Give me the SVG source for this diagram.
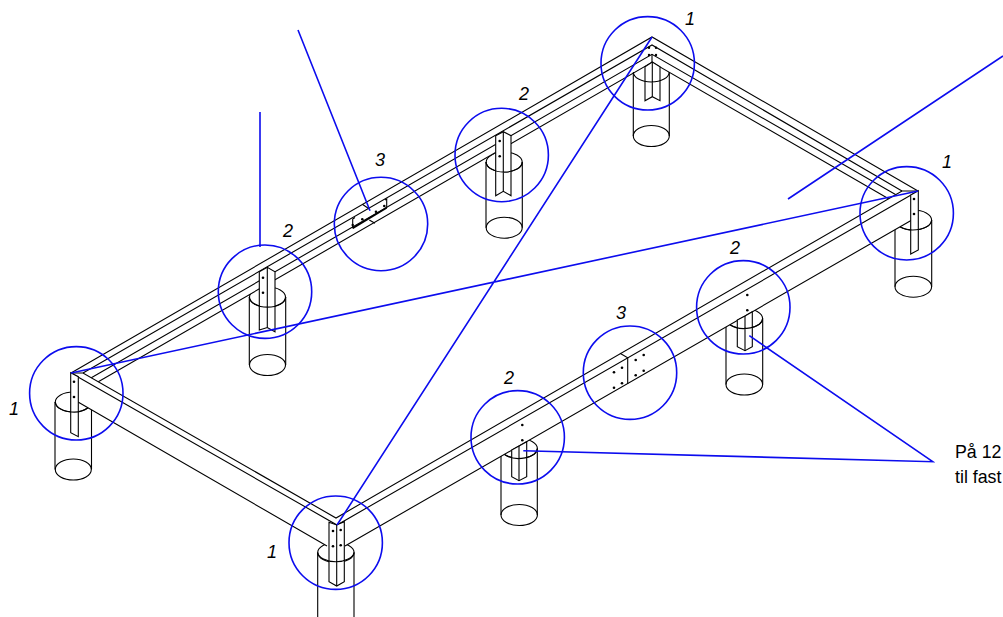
<svg xmlns="http://www.w3.org/2000/svg" width="1003" height="617" viewBox="0 0 1003 617">
<style>
.l{fill:none;stroke:#000;stroke-width:1.1}
.f{fill:#fff;stroke:none}
.b{fill:#fff;stroke:#000;stroke-width:1.1;stroke-linejoin:miter}
.d{fill:#000;stroke:none}
.c{fill:none;stroke:#0c0cee;stroke-width:1.6}
.n{font-family:"Liberation Sans",Arial,sans-serif;font-size:18px;font-style:italic;fill:#000;text-anchor:middle}
.t{font-family:"Liberation Sans",Arial,sans-serif;font-size:17.800px;fill:#000}
</style>
<rect width="1003" height="617" fill="#fff"/>
<g id="piers">
<g id="pier-left" class="l"><path class="l" d="M55 402V469.500M91.500 402V469.500"/><ellipse class="l" cx="73.300" cy="402" rx="18" ry="10"/><ellipse class="l" cx="73.300" cy="469.500" rx="18" ry="10.500"/></g>
<g id="pier-back-1" class="l"><path class="l" d="M249.300 297V365M285.700 297V365"/><ellipse class="l" cx="267.500" cy="297" rx="18" ry="10"/><ellipse class="l" cx="267.500" cy="365" rx="18" ry="10.500"/></g>
<g id="pier-back-2" class="l"><path class="l" d="M486 162V227.700M522.300 162V227.700"/><ellipse class="l" cx="504.200" cy="162" rx="18" ry="10"/><ellipse class="l" cx="504.200" cy="227.700" rx="18" ry="10.500"/></g>
<g id="pier-top" class="l"><path class="l" d="M633.300 72V136M669.300 72V136"/><ellipse class="l" cx="651.300" cy="136" rx="18" ry="10.500"/></g>
<g id="pier-right" class="l"><path class="l" d="M895 220V286.700M931.700 220V286.700"/><ellipse class="l" cx="913.300" cy="220" rx="18.300" ry="10"/><ellipse class="l" cx="913.300" cy="286.700" rx="18.300" ry="10.500"/></g>
<g id="pier-front-1" class="l"><path class="l" d="M726 318.500V384.500M762.700 318.500V384.500"/><ellipse class="l" cx="744.300" cy="318.500" rx="18.300" ry="10"/><ellipse class="l" cx="744.300" cy="384.500" rx="18.300" ry="10.500"/></g>
<g id="pier-front-2" class="l"><path class="l" d="M501 448.500V515M537.300 448.500V515"/><ellipse class="l" cx="519.200" cy="448.500" rx="18.200" ry="10"/><ellipse class="l" cx="519.200" cy="515" rx="18.200" ry="10.500"/></g>
<g id="pier-bottom" class="l"><path class="l" d="M317.700 552.500V617M354 552.500V617"/><ellipse class="l" cx="335.900" cy="552.500" rx="18.200" ry="10"/></g>
</g>
<g id="frame">
<path class="f" d="M71 373L652 37V62.300L98.300 381.800L83 373Z"/>
<path class="f" d="M652 37L918 191H902L888.600 198.700L652 62.300Z"/>
<path class="f" d="M71 373H83L336 518L918 191L911 220.500L345 546L337 552L327 546L78 402Z"/>
<path class="l" d="M71 373L652 37L918 191M83 373L652 45L902 191M91.300 377.800L652 54.300L895.500 194.600M98.300 381.800L652 62.300L888.600 198.700"/>
<path class="l" d="M71 373H83L336 518L902 191H918M71 373L337 525L918 191M78 402L327 546M345 546L911 220.500M652 54V62"/>
</g>
<g id="bracket-left"><path class="b" d="M70.700 372.700L78.300 376.700V436.700L70.700 432.700Z"/><circle class="d" cx="74" cy="381.700" r="1.300"/><circle class="d" cx="74" cy="397" r="1.300"/><path class="l" d="M55.300 402A18 10 0 0 0 88 407.800"/></g>
<g id="bracket-bottom"><path class="b" d="M329 522.300L336.700 525L344.300 521.700V581.700L336.700 586L329 581.700Z"/><path class="l" d="M336.700 525V586"/><circle class="d" cx="333" cy="531" r="1.300"/><circle class="d" cx="333" cy="546.300" r="1.300"/><circle class="d" cx="340.700" cy="530" r="1.300"/><circle class="d" cx="340.700" cy="545.300" r="1.300"/><path class="l" d="M317.700 552.500A18.200 10 0 0 0 354 552.500"/></g>
<g id="bracket-top"><path class="b" d="M645 66.700L652.300 62L660 66.700V100.700L652.300 96.700L645 100.700Z"/><path class="l" d="M652.300 62V96.700M633.300 72A18 10 0 0 0 669.300 72"/><circle class="d" cx="649" cy="47.700" r="1.200"/><circle class="d" cx="656" cy="47.700" r="1.200"/><circle class="d" cx="649" cy="55" r="1.200"/><circle class="d" cx="656" cy="55" r="1.200"/></g>
<g id="bracket-right"><path class="b" d="M918.300 190.700L910.700 195V254L918.300 250Z"/><circle class="d" cx="914" cy="199" r="1.300"/><circle class="d" cx="914" cy="214" r="1.300"/><path class="l" d="M900 226.700A18.300 10 0 0 0 931.700 220"/></g>
<g id="bracket-back-1"><path class="b" d="M259.300 271.700L267.300 267.300L275 271.700V331.700L267.300 327.500L259.300 330Z"/><path class="l" d="M267.300 267.300V327.500M249.300 297A18 10 0 0 0 285.700 297"/><circle class="d" cx="263" cy="277.700" r="1.300"/><circle class="d" cx="263" cy="292.700" r="1.300"/></g>
<g id="bracket-back-2"><path class="b" d="M495.700 135.700L503.300 131.700L511 135.700V195.700L503.300 191.300L495.700 195.700Z"/><path class="l" d="M503.300 131.700V191.300M486 162A18 10 0 0 0 522.300 162"/><circle class="d" cx="499.700" cy="141" r="1.300"/><circle class="d" cx="499.700" cy="156.300" r="1.300"/></g>
<g id="bracket-front-1"><path class="b" d="M737.300 320L745 316L752.300 311.700V346.700L745 350.700L737.300 346.700Z"/><path class="l" d="M745 316V350.700M730 324.700A18.300 10 0 0 0 762.600 318.500"/><circle class="d" cx="747.300" cy="295" r="1.300"/><circle class="d" cx="747.300" cy="310.300" r="1.300"/></g>
<g id="bracket-front-2"><path class="b" d="M511.700 450L519 446L526.700 441.700V476.700L519 480.700L511.700 476.700Z"/><path class="l" d="M519 446V480.700M504.900 454.700A18.200 10 0 0 0 537.300 448.500"/><circle class="d" cx="522.300" cy="425" r="1.300"/><circle class="d" cx="522.300" cy="440.300" r="1.300"/></g>
<g id="splice-front"><path class="l" d="M620 353.300L627.700 357.700V384"/><circle class="d" cx="614" cy="372.300" r="1.300"/><circle class="d" cx="622" cy="367.700" r="1.300"/><circle class="d" cx="614" cy="387.700" r="1.300"/><circle class="d" cx="622" cy="383.300" r="1.300"/><circle class="d" cx="635.700" cy="360" r="1.300"/><circle class="d" cx="643.700" cy="355" r="1.300"/><circle class="d" cx="635.700" cy="375.300" r="1.300"/><circle class="d" cx="643.700" cy="370.700" r="1.300"/></g>
<g id="splice-back"><path class="l" d="M362.300 204.300L369.300 209M369.300 220L375 223.300M355 217.500L352.700 219V228.300M385 200L386.700 199V207.700"/><path d="M352.700 228.300L386.700 207.700" fill="none" stroke="#000" stroke-width="1.800"/><circle class="d" cx="352.700" cy="225" r="1.200"/><circle class="d" cx="362.300" cy="219.300" r="1.300"/><circle class="d" cx="376" cy="211.700" r="1.300"/><circle class="d" cx="384.300" cy="206" r="1.300"/></g>
<g id="connectors">
<path class="c" d="M298 30L370 210.700M260 112V247M1003 56L788 199M71 373L918 191M652 37L337 525M523.300 450.700L932.700 461.700L749.300 335.700"/>
</g>
<g id="markers">
<circle class="c" cx="76.300" cy="393.300" r="46.700"/>
<circle class="c" cx="335.700" cy="542.700" r="46.700"/>
<circle class="c" cx="647.700" cy="63.300" r="46.700"/>
<circle class="c" cx="906.700" cy="213.300" r="46.700"/>
<circle class="c" cx="265" cy="291.700" r="46.700"/>
<circle class="c" cx="381" cy="224" r="46.700"/>
<circle class="c" cx="501.700" cy="155" r="46.700"/>
<circle class="c" cx="630" cy="372.700" r="46.700"/>
<circle class="c" cx="743.300" cy="307.300" r="46.700"/>
<circle class="c" cx="517.700" cy="437.300" r="46.700"/>
</g>
<g id="labels">
<text class="n" x="690" y="25">1</text>
<text class="n" x="524" y="100">2</text>
<text class="n" x="380" y="166">3</text>
<text class="n" x="288" y="237">2</text>
<text class="n" x="14" y="415">1</text>
<text class="n" x="272" y="558">1</text>
<text class="n" x="509" y="384">2</text>
<text class="n" x="621" y="319">3</text>
<text class="n" x="735" y="254">2</text>
<text class="n" x="947" y="168">1</text>
<text class="t" x="955" y="458">På 12</text>
<text class="t" x="955" y="483">til fast</text>
</g>
</svg>
